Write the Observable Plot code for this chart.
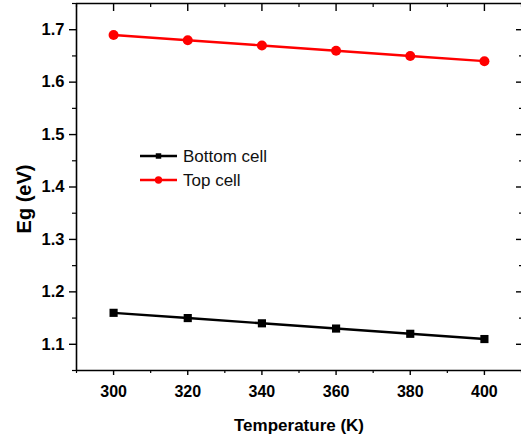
<!DOCTYPE html>
<html>
<head>
<meta charset="utf-8">
<script src="https://cdn.jsdelivr.net/npm/d3@7"></script>
<script src="https://cdn.jsdelivr.net/npm/@observablehq/plot@0.6"></script>
<style>
  html, body { margin: 0; padding: 0; background: #fff; }
  #chart svg { display: block; }
</style>
</head>
<body>
<div id="chart"></div>
<script>
// Band gap versus temperature for the two sub-cells
const temperatures = [300, 320, 340, 360, 380, 400];
const bottomCell = [1.16, 1.15, 1.14, 1.13, 1.12, 1.11];
const topCell = [1.69, 1.68, 1.67, 1.66, 1.65, 1.64];
const seriesNames = ["Bottom cell", "Top cell"];
const xMajor = [300, 320, 340, 360, 380, 400];
const xMinor = [290, 310, 330, 350, 370, 390, 410];
const yMajor = [1.1, 1.2, 1.3, 1.4, 1.5, 1.6, 1.7];
const yMinor = [1.05, 1.15, 1.25, 1.35, 1.45, 1.55, 1.65, 1.75];

const rows = (vals, name) => temperatures.map((t, i) => ({t, eg: vals[i], name}));
const bottomRows = rows(bottomCell, seriesNames[0]);
const topRows = rows(topCell, seriesNames[1]);

const font = "Liberation Sans, Arial, sans-serif";
const fmt = d => d3.format(".1f")(d);

const chart = Plot.plot({
  width: 521,
  height: 441,
  marginLeft: 76,
  marginRight: 0,
  marginTop: 3,
  marginBottom: 71,
  style: {fontFamily: font, color: "#000", background: "#fff"},
  x: {domain: [290, 410]},
  y: {domain: [1.05, 1.75]},
  marks: [
    // frame edges
    Plot.ruleX([290], {stroke: "#000", strokeWidth: 1.6}),
    Plot.ruleY([1.05], {stroke: "#000", strokeWidth: 1.6}),
    Plot.ruleY([1.75], {stroke: "#000", strokeWidth: 1.6}),
    // bottom axis
    Plot.axisX(xMajor, {anchor: "bottom", tickSize: 5, tickPadding: 10, fontSize: 16, fontWeight: "bold", strokeWidth: 1.4, tickFormat: d => d, label: null}),
    Plot.axisX(xMinor, {anchor: "bottom", tickSize: 3, text: null, strokeWidth: 1.2, label: null}),
    // top axis, ticks pointing inward
    Plot.axisX(xMajor, {anchor: "top", tickSize: -7, text: null, strokeWidth: 1.4, label: null}),
    Plot.axisX(xMinor, {anchor: "top", tickSize: -3, text: null, strokeWidth: 1.2, label: null}),
    // left axis
    Plot.axisY(yMajor, {anchor: "left", tickSize: 7, tickPadding: 5, fontSize: 16.5, fontWeight: "bold", strokeWidth: 1.4, tickFormat: fmt, label: null}),
    Plot.axisY(yMinor, {anchor: "left", tickSize: 4, text: null, strokeWidth: 1.2, label: null}),
    // right axis, ticks pointing inward
    Plot.axisY(yMajor, {anchor: "right", tickSize: -6, text: null, strokeWidth: 1.4, label: null}),
    Plot.axisY(yMinor, {anchor: "right", tickSize: -3, text: null, strokeWidth: 1.2, label: null}),
    // axis titles
    Plot.text(["Temperature (K)"], {frameAnchor: "bottom", dy: 55, lineAnchor: "middle", fontSize: 17, fontWeight: "bold", fill: "#000"}),
    Plot.text(["Eg (eV)"], {frameAnchor: "left", dx: -52, dy: 12, rotate: -90, textAnchor: "middle", lineAnchor: "middle", fontSize: 20, fontWeight: "bold", fill: "#000"}),
    // series
    Plot.line(bottomRows, {x: "t", y: "eg", stroke: "#000", strokeWidth: 2.4}),
    Plot.dot(bottomRows, {x: "t", y: "eg", symbol: "square", r: 4.6, fill: "#000", stroke: "none"}),
    Plot.line(topRows, {x: "t", y: "eg", stroke: "#ff0000", strokeWidth: 2.4}),
    Plot.dot(topRows, {x: "t", y: "eg", symbol: "circle", r: 5, fill: "#ff0000", stroke: "none"})
  ]
});

// legend drawn inside the plot area
const svg = d3.select(chart);
const legend = svg.append("g")
  .attr("font-family", font)
  .attr("font-size", 17)
  .attr("text-anchor", "start");
const entries = [
  {name: seriesNames[0], color: "#000", symbol: d3.symbolSquare, size: 30},
  {name: seriesNames[1], color: "#ff0000", symbol: d3.symbolCircle, size: 42}
];
entries.forEach((e, i) => {
  const g = legend.append("g").attr("transform", `translate(140,${156 + i * 24})`);
  g.append("line").attr("x1", 0).attr("x2", 37).attr("stroke", e.color).attr("stroke-width", 2.4);
  g.append("path").attr("d", d3.symbol(e.symbol, e.size)()).attr("transform", "translate(18.5,0)").attr("fill", e.color);
  g.append("text").attr("x", 43).attr("dy", "0.35em").attr("fill", "#111").text(e.name);
});

document.getElementById("chart").appendChild(chart);
</script>
</body>
</html>
